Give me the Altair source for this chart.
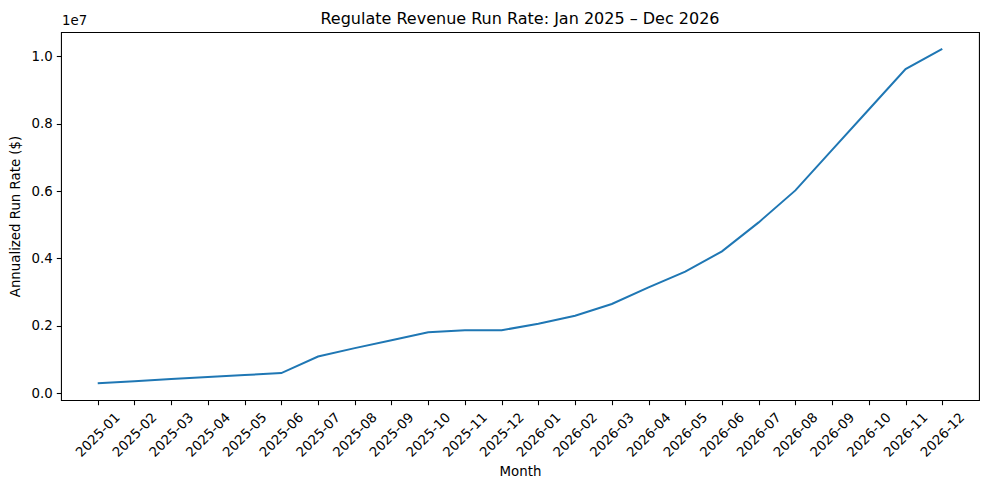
import altair as alt
import pandas as pd

months = ["2025-01", "2025-02", "2025-03", "2025-04", "2025-05", "2025-06",
          "2025-07", "2025-08", "2025-09", "2025-10", "2025-11", "2025-12",
          "2026-01", "2026-02", "2026-03", "2026-04", "2026-05", "2026-06",
          "2026-07", "2026-08", "2026-09", "2026-10", "2026-11", "2026-12"]
run_rate = [300000, 360000, 420000, 480000, 540000, 600000,
            1090000, 1340000, 1570000, 1810000, 1870000, 1870000,
            2060000, 2300000, 2650000, 3140000, 3610000, 4210000,
            5070000, 6020000, 7220000, 8420000, 9620000, 10220000]
y_ticks = [0, 2000000, 4000000, 6000000, 8000000, 10000000]
offset_label = ["1e7"]
title_text = ["Regulate Revenue Run Rate: Jan 2025 – Dec 2026"]

df = pd.DataFrame({"Month": months, "Rate": run_rate})

W, H = 918, 368
FONT = "DejaVu Sans"

line = alt.Chart(df).mark_line(color="#1f77b4", strokeWidth=2).encode(
    x=alt.X("Month:O", sort=months,
            scale=alt.Scale(type="point", padding=1.15),
            axis=alt.Axis(title="Month", labelAngle=-45, labelAlign="center",
                          labelBaseline="middle", labelPadding=30,
                          tickSize=4.7, tickColor="black", domain=False,
                          titleY=64, titleBaseline="top", titleX=W / 2)),
    y=alt.Y("Rate:Q", scale=alt.Scale(domain=[-200000, 10720000], nice=False, zero=False),
            axis=alt.Axis(title="Annualized Run Rate ($)", values=y_ticks,
                          labelExpr="format(datum.value / 10000000, '.1f')",
                          tickSize=4.7, tickColor="black", labelPadding=4,
                          domain=False, grid=False,
                          titleX=-39, titleY=H / 2, titleAngle=-90,
                          titleBaseline="bottom", titleAlign="center")),
)

offset_text = alt.Chart(pd.DataFrame({"t": offset_label})).mark_text(
    align="left", baseline="bottom", font=FONT, fontSize=13.33, color="black"
).encode(text="t:N", x=alt.value(1), y=alt.value(-4))

title_mark = alt.Chart(pd.DataFrame({"t": title_text})).mark_text(
    align="center", baseline="bottom", font=FONT, fontSize=16, color="black"
).encode(text="t:N", x=alt.value(W / 2), y=alt.value(-5))

chart = alt.layer(line, offset_text, title_mark).properties(
    width=W, height=H,
    autosize=alt.AutoSizeParams(type="none"),
    padding={"left": 53, "top": 24, "right": 2, "bottom": 82},
).configure_view(stroke="black", strokeWidth=1.07).configure_axis(
    labelFont=FONT, titleFont=FONT, labelFontSize=13.33, titleFontSize=13.33,
    labelColor="black", titleColor="black", titleFontWeight="normal", grid=False,
    tickWidth=1.07
)

chart.save("out.html", embed_options={"renderer": "svg", "actions": False})
